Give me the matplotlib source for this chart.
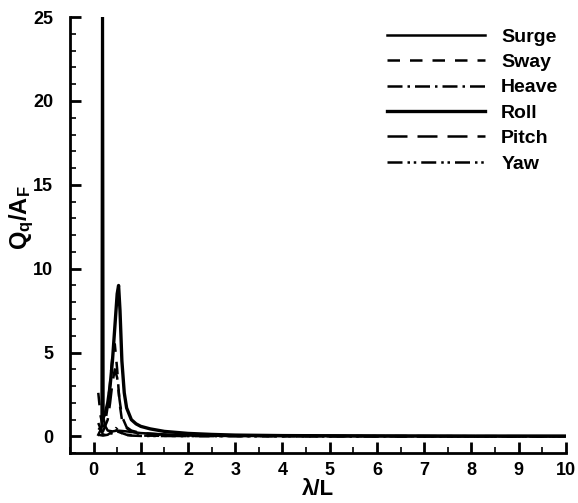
import numpy as np
import matplotlib
matplotlib.use("Agg")
import matplotlib.pyplot as plt

plt.rcParams['font.family'] = ['Liberation Sans', 'DejaVu Sans']
plt.rcParams['font.weight'] = 'bold'
plt.rcParams['mathtext.fontset'] = 'custom'
plt.rcParams['mathtext.bf'] = 'Liberation Sans:bold'
plt.rcParams['mathtext.rm'] = 'Liberation Sans:bold'

# --------------------------------
# data
# --------------------------------
surge_x = [0.10, 0.17, 0.19, 0.21, 0.25, 0.30, 0.40, 0.50, 0.70, 1.0, 1.5, 2.0, 3.0, 4.0, 6.0, 8.0, 10.0]
surge_y = [0.10, 0.50, 40.0, 1.10, 0.60, 0.35, 0.30, 0.35, 0.30, 0.20, 0.12, 0.08, 0.05, 0.04, 0.03, 0.02, 0.02]

sway_x = [0.10, 0.15, 0.20, 0.25, 0.30, 0.35, 0.40, 0.45, 0.50, 0.55, 0.60, 0.70, 0.80, 1.0, 1.5, 2.0, 3.0, 5.0, 10.0]
sway_y = [2.60, 1.20, 0.60, 0.90, 1.80, 3.20, 4.80, 5.50, 4.00, 2.00, 1.00, 0.50, 0.30, 0.15, 0.08, 0.05, 0.03, 0.02, 0.01]

heave_x = [0.10, 0.20, 0.30, 0.40, 0.50, 0.60, 0.70, 1.0, 2.0, 5.0, 10.0]
heave_y = [0.80, 0.10, 0.10, 0.20, 0.30, 0.20, 0.10, 0.05, 0.02, 0.01, 0.01]

roll_x = [0.20, 0.25, 0.30, 0.35, 0.40, 0.45, 0.50, 0.53, 0.56, 0.60, 0.65, 0.70, 0.80, 0.90, 1.0, 1.2, 1.5, 2.0, 2.5, 3.0, 4.0, 5.0, 6.0, 8.0, 10.0]
roll_y = [1.10, 1.40, 2.00, 3.00, 4.50, 6.50, 8.50, 9.00, 7.50, 4.50, 2.60, 1.70, 1.00, 0.75, 0.60, 0.45, 0.30, 0.18, 0.12, 0.08, 0.05, 0.04, 0.03, 0.02, 0.02]

pitch_x = [0.10, 0.20, 0.30, 0.35, 0.40, 0.45, 0.50, 0.55, 0.60, 0.70, 0.80, 1.0, 1.5, 2.0, 3.0, 5.0, 10.0]
pitch_y = [0.50, 0.30, 1.00, 2.00, 3.20, 4.00, 3.50, 2.20, 1.20, 0.55, 0.35, 0.20, 0.10, 0.06, 0.03, 0.02, 0.01]

yaw_x = [0.10, 0.20, 0.30, 0.40, 0.47, 0.55, 0.65, 0.80, 1.0, 2.0, 5.0, 10.0]
yaw_y = [0.10, 0.05, 0.10, 0.30, 0.50, 0.30, 0.10, 0.05, 0.03, 0.02, 0.01, 0.01]

x_ticks = [0, 1, 2, 3, 4, 5, 6, 7, 8, 9, 10]
y_ticks = [0, 5, 10, 15, 20, 25]

fig = plt.figure(figsize=(5.78, 5.03), dpi=100)
ax = fig.add_axes([0.121, 0.099, 0.858, 0.867])

ax.plot(surge_x, surge_y, color='black', lw=1.8, ls='-', label='Surge')
ax.plot(sway_x, sway_y, color='black', lw=1.8, ls=(0, (5, 4)), label='Sway')
ax.plot(heave_x, heave_y, color='black', lw=1.8, ls=(0, (6, 2, 1, 2)), label='Heave')
ax.plot(roll_x, roll_y, color='black', lw=2.4, ls='-', label='Roll')
ax.plot(pitch_x, pitch_y, color='black', lw=1.8, ls=(0, (8, 4)), label='Pitch')
ax.plot(yaw_x, yaw_y, color='black', lw=1.8, ls=(0, (6, 2, 1, 1.5, 1, 2)), label='Yaw')

ax.set_xlim(-0.5, 10)
ax.set_ylim(-1, 25)
ax.set_xticks(x_ticks)
ax.set_yticks(y_ticks)
ax.set_xticks(np.arange(-0.5, 10.01, 0.5), minor=True)
ax.set_yticks(np.arange(-1, 25.01, 1), minor=True)
ax.tick_params(which='major', direction='in', length=8, width=2, labelsize=13)
ax.tick_params(axis='y', which='major', pad=12)
ax.tick_params(axis='x', which='major', pad=6)
ax.tick_params(which='minor', direction='in', length=4, width=1.2)
for lab in ax.get_xticklabels() + ax.get_yticklabels():
    lab.set_fontweight('bold')

ax.spines['top'].set_visible(False)
ax.spines['right'].set_visible(False)
ax.spines['left'].set_linewidth(2)
ax.spines['bottom'].set_linewidth(2)

ax.set_xlabel('λ/L', fontsize=16, fontweight='bold', labelpad=0)
ax.set_ylabel(r'$\mathbf{Q_q/A_F}$', fontsize=17, labelpad=4)
ax.yaxis.set_label_coords(-0.068, 0.54)

leg = ax.legend(loc='upper left', bbox_to_anchor=(0.605, 1.015), frameon=False,
                handlelength=5.0, handletextpad=0.85, labelspacing=0.40,
                prop={'size': 14, 'weight': 'bold'})

fig.savefig('out.png', dpi=100)
